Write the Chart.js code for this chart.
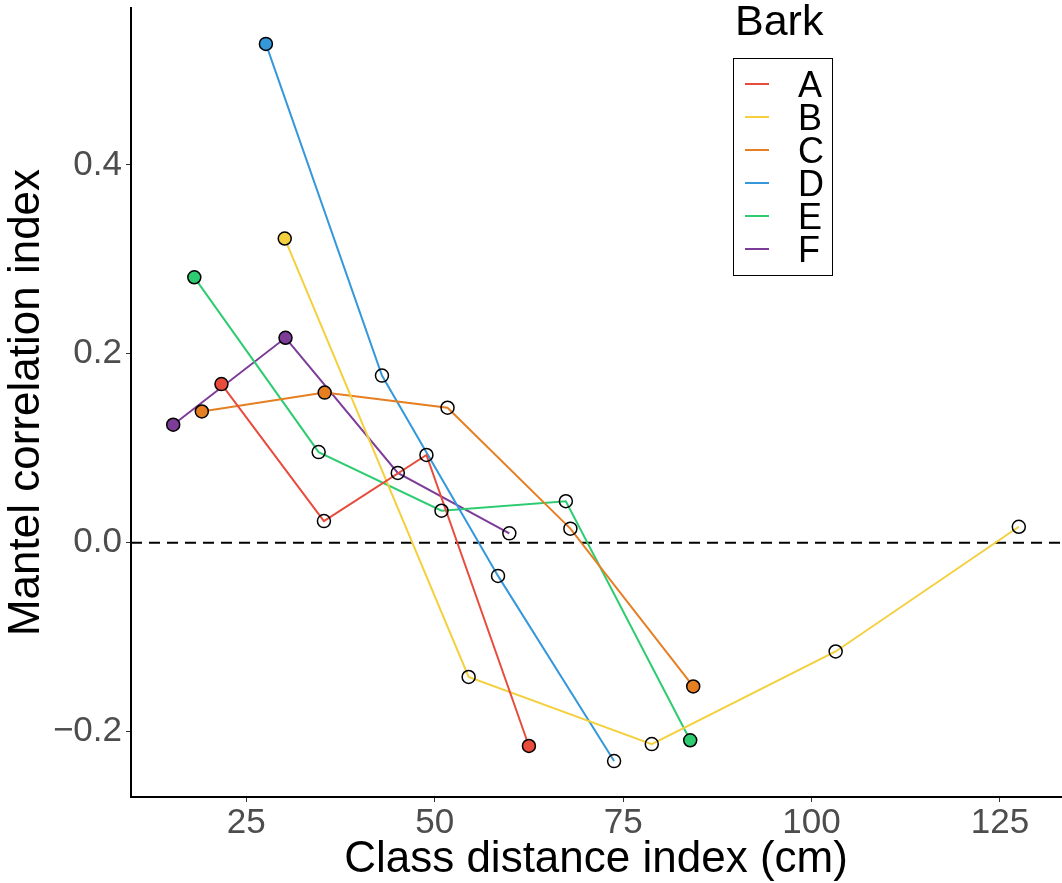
<!DOCTYPE html>
<html>
<head>
<meta charset="utf-8">
<script src="https://cdn.jsdelivr.net/npm/chart.js@4/dist/chart.umd.min.js"></script>
<style>
  body { margin: 0; background: #fff; }
  #wrap { width: 1062px; height: 883px; }
</style>
</head>
<body>
<div id="wrap"><canvas id="mantelChart" width="1062" height="883"></canvas></div>
<script>
// bark types and their colours
const barkTypes = ['A', 'B', 'C', 'D', 'E', 'F'];
const barkColours = ['#E74C3C', '#F4D03F', '#E67E22', '#3498DB', '#2ECC71', '#7D3C98'];

// class distance index (cm)
const distA = [21.7, 35.3, 48.9, 62.5];
const distB = [30.1, 54.5, 78.8, 103.2, 127.5];
const distC = [19.1, 35.4, 51.7, 68.0, 84.3];
const distD = [27.6, 43.0, 58.4, 73.8];
const distE = [18.1, 34.6, 50.9, 67.4, 83.9];
const distF = [15.3, 30.2, 45.1, 59.9];

// Mantel correlation index
const mantelA = [0.168, 0.023, 0.093, -0.215];
const mantelB = [0.322, -0.142, -0.213, -0.115, 0.017];
const mantelC = [0.139, 0.159, 0.143, 0.015, -0.152];
const mantelD = [0.528, 0.177, -0.035, -0.231];
const mantelE = [0.281, 0.096, 0.034, 0.044, -0.209];
const mantelF = [0.125, 0.217, 0.074, 0.010];

// filled point = significant, open point = not
const signifA = [true, false, false, true];
const signifB = [true, false, false, false, false];
const signifC = [true, true, false, false, true];
const signifD = [true, false, false, false];
const signifE = [true, false, false, false, true];
const signifF = [true, true, false, false];

// tick labels
const xTicks = [25, 50, 75, 100, 125];
const yTicks = [-0.2, 0.0, 0.2, 0.4];
const yTickLabels = ['\u22120.2', '0.0', '0.2', '0.4'];

const FONT = "'Liberation Sans', Arial, Helvetica, sans-serif";

const seriesX = [distA, distB, distC, distD, distE, distF];
const seriesY = [mantelA, mantelB, mantelC, mantelD, mantelE, mantelF];
const seriesSig = [signifA, signifB, signifC, signifD, signifE, signifF];

let datasets = [];
barkTypes.forEach((name, i) => {
    let pts = seriesX[i].map((x, j) => ({x: x, y: seriesY[i][j]}));
    // lines first (drawn underneath)
    datasets.push({
        label: name,
        data: pts,
        borderColor: barkColours[i],
        borderWidth: 2,
        pointRadius: 0,
        fill: false,
        order: 2
    });
    // then the points on top
    datasets.push({
        label: name + ' points',
        data: pts,
        showLine: false,
        pointRadius: 6.5,
        pointBorderWidth: 1.5,
        pointBorderColor: '#000',
        pointBackgroundColor: seriesSig[i].map(s => s ? barkColours[i] : 'rgba(0,0,0,0)'),
        order: 1
    });
});

// dashed line at zero
const zeroLine = {
    id: 'zeroLine',
    beforeDatasetsDraw(chart) {
        const {ctx, chartArea, scales} = chart;
        const y = scales.y.getPixelForValue(0);
        ctx.save();
        ctx.strokeStyle = '#000';
        ctx.lineWidth = 2;
        ctx.setLineDash([11, 7]);
        ctx.beginPath();
        ctx.moveTo(chartArea.left, y);
        ctx.lineTo(chartArea.right, y);
        ctx.stroke();
        ctx.restore();
    }
};

// ggplot style legend box in the top right
const barkLegend = {
    id: 'barkLegend',
    afterDraw(chart) {
        const ctx = chart.ctx;
        ctx.save();
        ctx.fillStyle = '#000';
        ctx.textAlign = 'left';
        ctx.textBaseline = 'alphabetic';
        ctx.font = '43px ' + FONT;
        ctx.fillText('Bark', 735, 35);

        ctx.strokeStyle = '#000';
        ctx.lineWidth = 1;
        ctx.strokeRect(733.5, 58.5, 99, 217);

        ctx.font = '36px ' + FONT;
        barkTypes.forEach((name, i) => {
            let rowY = 84 + i * 33;
            ctx.strokeStyle = barkColours[i];
            ctx.lineWidth = 2;
            ctx.beginPath();
            ctx.moveTo(745, rowY);
            ctx.lineTo(769, rowY);
            ctx.stroke();
            ctx.fillStyle = '#000';
            ctx.fillText(name, 798, rowY + 13);
        });
        ctx.restore();
    }
};

new Chart(document.getElementById('mantelChart'), {
    type: 'line',
    data: { datasets: datasets },
    options: {
        responsive: false,
        animation: false,
        events: [],
        layout: { autoPadding: false, padding: { top: 8, right: 1, left: 0, bottom: 0 } },
        plugins: {
            legend: { display: false },
            tooltip: { enabled: false }
        },
        scales: {
            x: {
                type: 'linear',
                min: 9.7,
                max: 133.1,
                afterFit: s => { s.height = 86; s.paddingLeft = 0; s.paddingRight = 0; },
                afterBuildTicks: s => { s.ticks = xTicks.map(v => ({value: v})); },
                grid: { drawOnChartArea: false, drawTicks: true, tickLength: 5, tickColor: '#333', tickWidth: 1 },
                border: { display: true, color: '#000', width: 2 },
                ticks: { color: '#4D4D4D', font: { family: FONT, size: 35 }, padding: 0, maxRotation: 0, autoSkip: false },
                title: { display: true, text: 'Class distance index (cm)', color: '#000', font: { family: FONT, size: 44 }, padding: { top: 0, bottom: -3 } }
            },
            y: {
                type: 'linear',
                min: -0.269,
                max: 0.566,
                afterFit: s => { s.width = 131; s.paddingTop = 0; s.paddingBottom = 0; },
                afterBuildTicks: s => { s.ticks = yTicks.map(v => ({value: v})); },
                grid: { drawOnChartArea: false, drawTicks: true, tickLength: 5, tickColor: '#333', tickWidth: 1 },
                border: { display: true, color: '#000', width: 2 },
                ticks: {
                    color: '#4D4D4D',
                    font: { family: FONT, size: 35 },
                    padding: 4,
                    callback: (v) => yTickLabels[yTicks.findIndex(t => Math.abs(t - v) < 1e-9)]
                },
                title: { display: true, text: 'Mantel correlation index', color: '#000', font: { family: FONT, size: 44 }, padding: { top: 0, bottom: 0 } }
            }
        }
    },
    plugins: [zeroLine, barkLegend]
});
</script>
</body>
</html>
